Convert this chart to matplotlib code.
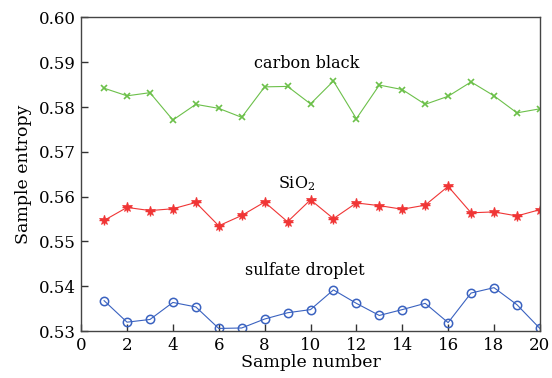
import numpy as np
import matplotlib
matplotlib.use("Agg")
import matplotlib.pyplot as plt

plt.rcParams['font.family'] = ['DejaVu Serif']
plt.rcParams['mathtext.fontset'] = 'dejavuserif'

sample = np.arange(1, 21)

carbon_black = [0.5842, 0.5825, 0.5832, 0.5771, 0.5806, 0.5797, 0.5777, 0.5845, 0.5846, 0.5807,
                0.5858, 0.5774, 0.5849, 0.5839, 0.5806, 0.5824, 0.5856, 0.5825, 0.5787, 0.5796]
sio2 = [0.5547, 0.5576, 0.5569, 0.5573, 0.5587, 0.5535, 0.5558, 0.5588, 0.5544, 0.5593,
        0.5551, 0.5586, 0.5580, 0.5572, 0.5581, 0.5623, 0.5564, 0.5566, 0.5557, 0.5571]
sulfate = [0.5368, 0.5320, 0.5326, 0.5364, 0.5354, 0.5306, 0.5307, 0.5327, 0.5341, 0.5348,
           0.5392, 0.5362, 0.5335, 0.5348, 0.5362, 0.5319, 0.5385, 0.5397, 0.5359, 0.5306]

fig = plt.figure(figsize=(5.52, 3.78), dpi=100)
ax = fig.add_axes([0.147, 0.124, 0.831, 0.830])

ax.plot(sample, carbon_black, '-x', color='#6cc04a', lw=0.8, ms=5, mew=1.2)
ax.plot(sample, sio2, '-', color='#f03535', lw=0.8)
ax.plot(sample, sio2, '*', color='#f03535', ms=7, mew=0.5)
ax.plot(sample, sio2, '+', color='#f03535', ms=7, mew=1.0)
ax.plot(sample, sulfate, '-o', color='#3a62c0', lw=0.8, ms=6, mfc='none', mew=1.1)

ax.text(9.85, 0.5897, 'carbon black', ha='center', va='center', fontsize=11.5)
ax.text(9.4, 0.5628, 'SiO$_2$', ha='center', va='center', fontsize=11.5)
ax.text(9.75, 0.5436, 'sulfate droplet', ha='center', va='center', fontsize=11.5)

ax.set_xlim(0, 20)
ax.set_ylim(0.53, 0.60)
ax.set_xticks(np.arange(0, 21, 2))
ax.set_yticks(np.arange(0.53, 0.6001, 0.01))
ax.set_yticklabels([f"{v:.2f}" for v in np.arange(0.53, 0.6001, 0.01)])
ax.tick_params(direction='in', labelsize=12, length=5, width=1, color='#333333', pad=4)
ax.set_xlabel('Sample number', fontsize=12.5, labelpad=0)
ax.set_ylabel('Sample entropy', fontsize=12.5, labelpad=5)
for s in ax.spines.values():
    s.set_color('#444444')
    s.set_linewidth(1.0)

fig.savefig('out.png', dpi=100)
